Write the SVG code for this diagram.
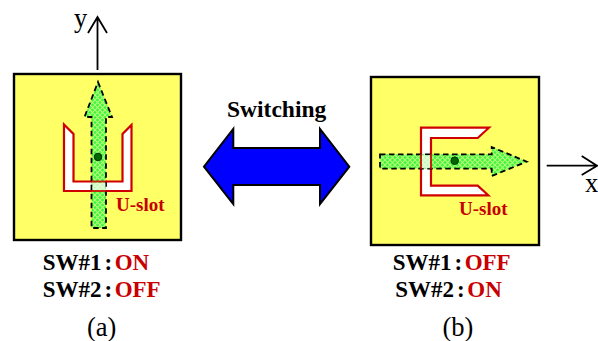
<svg xmlns="http://www.w3.org/2000/svg" width="598" height="341" viewBox="0 0 598 341">
<style>
.t{font-family:"Liberation Serif","Times New Roman",serif;font-size:23px;font-weight:bold;fill:#000}
.r{fill:#c80000}
.u{font-size:19px}
.n{font-family:"Liberation Serif","Times New Roman",serif;font-size:26.500px;fill:#000}
.sq{fill:#ffff66;stroke:#000;stroke-width:2.400}
.slot{fill:#fff;stroke:#d00000;stroke-width:2.200}
.over{fill:none;stroke:#d00000;stroke-width:2;opacity:.85}
.feed{fill:url(#lat);stroke:#000;stroke-width:1.800;stroke-dasharray:5.500 3.500}
.ax{fill:none;stroke:#000;stroke-width:1.800}
</style>
<defs>
<pattern id="lat" width="5" height="5" patternUnits="userSpaceOnUse">
<rect width="5" height="5" fill="#3cf53c"/>
<path d="M0 0L5 5M5 0L0 5" stroke="#b8ff78" stroke-width="1.100"/>
</pattern>
</defs>
<g id="panel-a">
<rect class="sq" x="14" y="74" width="167" height="166"/>
<path class="slot" d="M64 124.500L73.500 134V181.500H122.500V134L131.500 125V191H64Z"/>
<path class="feed" d="M98 82L112 117H106V228H91.500V117H84.500Z"/>
<rect x="92.500" y="182.500" width="13" height="8" fill="#fff" opacity=".7"/>
<path class="over" d="M91 181.500H107M91 191H107"/>
<circle cx="98" cy="157" r="3.800" fill="#006600" stroke="#003300"/>
<text class="r t u" x="116" y="211">U-slot</text>
</g>
<g id="panel-b">
<rect class="sq" x="371" y="77" width="168" height="168"/>
<path class="slot" d="M421 127.700H489L477.700 138H431V185.700H477.700L488.300 195.300H421Z"/>
<path class="feed" d="M380 154.300H491.700V147L526.700 161.700L491.700 176V168.700H380Z"/>
<rect x="422" y="155.200" width="8" height="13" fill="#fff" opacity=".7"/>
<path class="over" d="M421 154V169M431 154V169"/>
<circle cx="454.700" cy="160.700" r="3.800" fill="#006600" stroke="#003300"/>
<text class="r t u" x="459" y="215">U-slot</text>
</g>
<g id="switching">
<path fill="#0000ff" stroke="#000" stroke-width="2" d="M204 166.700L233.300 129V148H320V129L349.300 166.700L320 204V185H233.300V204Z"/>
<text class="t" x="227" y="117" style="font-size:23.500px">Switching</text>
</g>
<g id="connectors">
<path class="ax" d="M97.500 70V17M88 33L97.500 17L107 33"/>
<path class="ax" d="M546.700 165.700H596M581.700 156L597 165.700L581.700 175"/>
</g>
<g id="labels">
<text class="n" x="74" y="27">y</text>
<text class="n" x="585" y="192">x</text>
<text class="t" x="42.700" y="270">SW#1<tspan dx="3">:</tspan><tspan class="r" dx="2.500">ON</tspan></text>
<text class="t" x="42.700" y="296.700">SW#2<tspan dx="3">:</tspan><tspan class="r" dx="2.500">OFF</tspan></text>
<text class="n" x="101.700" y="336" text-anchor="middle">(a)</text>
<text class="t" x="392.700" y="270">SW#1<tspan dx="3">:</tspan><tspan class="r" dx="2.500">OFF</tspan></text>
<text class="t" x="395.300" y="296.700">SW#2<tspan dx="3">:</tspan><tspan class="r" dx="2.500">ON</tspan></text>
<text class="n" x="458" y="336" text-anchor="middle">(b)</text>
</g>
</svg>
